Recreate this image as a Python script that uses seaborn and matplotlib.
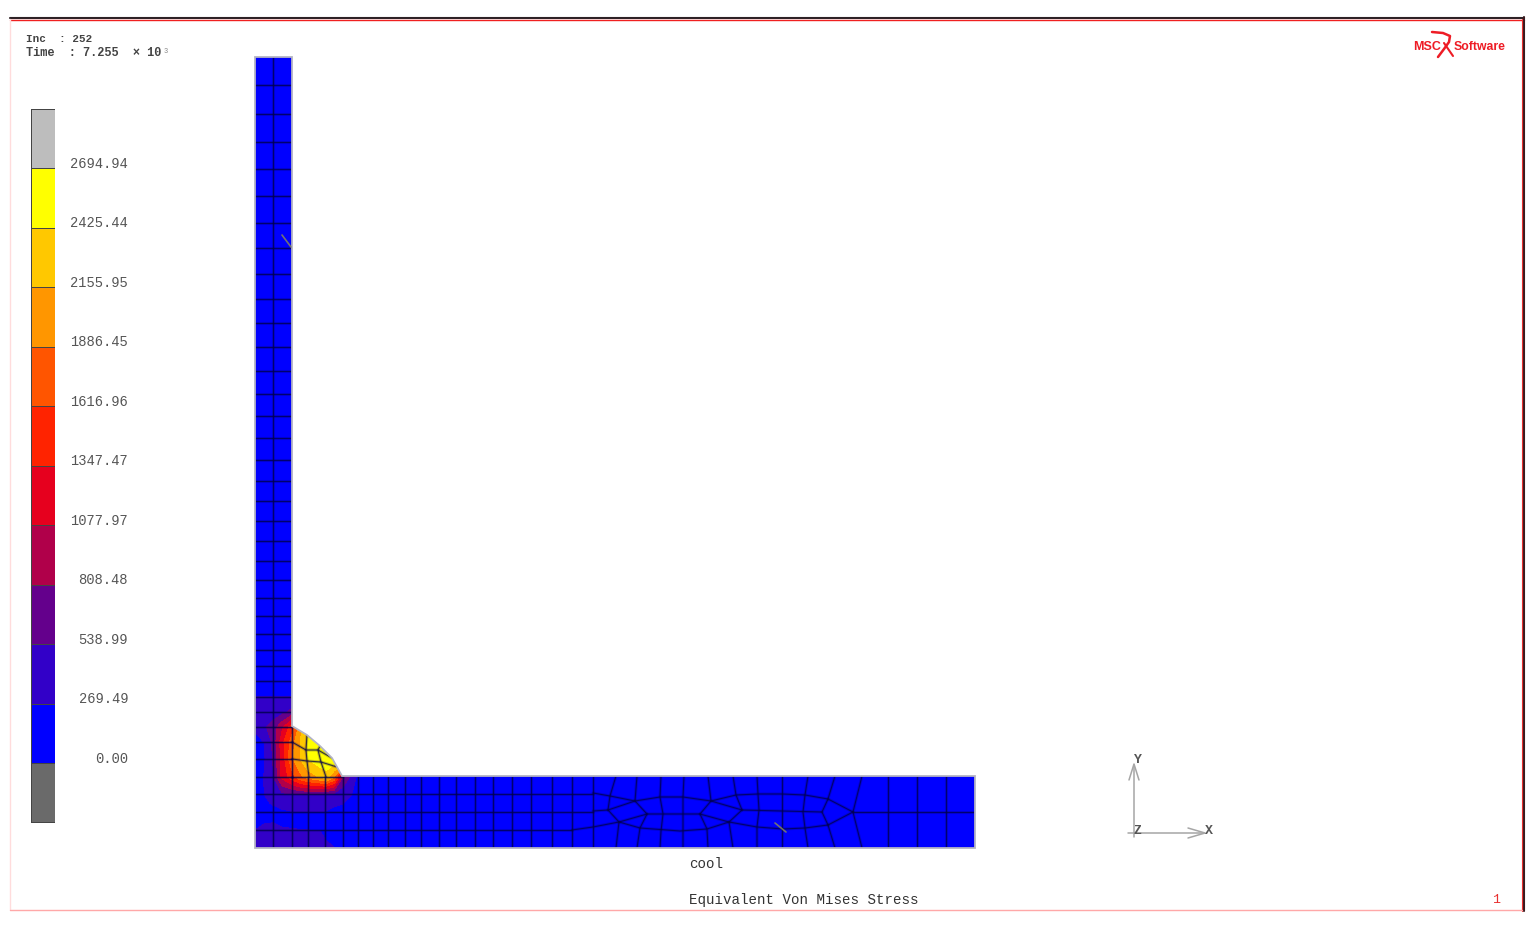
import numpy as np
import pandas as pd
import matplotlib
matplotlib.use("Agg")
import matplotlib.pyplot as plt
from matplotlib.colors import ListedColormap
from matplotlib.patches import Polygon
import seaborn as sns

# Legend
level_colors = ["#bdbdbd", "#ffff00", "#ffc800", "#ff9600", "#ff5500", "#ff2300",
                "#e6001e", "#b0004a", "#64008c", "#3200c8", "#0000ff", "#6a6a6a"]
level_labels = ["2694.94", "2425.44", "2155.95", "1886.45", "1616.96", "1347.47",
                "1077.97", "808.48", "538.99", "269.49", "0.00"]
level_edges = [0.00, 269.49, 538.99, 808.48, 1077.97, 1347.47, 1616.96,
               1886.45, 2155.95, 2425.44, 2694.94]

# Part outline, in picture pixels
outline_x = [255, 292, 292, 307, 320, 332, 337, 342, 975, 975, 255]
outline_y = [58, 58, 727, 736, 747, 759, 768, 777, 777, 849, 849]

# Mesh rows and columns
stem_rows = [86, 115, 143, 170, 197, 224, 249, 275, 300, 324, 348, 372, 395, 417, 439,
             461, 482, 502, 522, 542, 562, 581, 599, 617, 635, 651, 667, 682, 698, 713,
             728, 743, 760, 778]
flange_rows = [795, 813, 831]
flange_cols = [273, 292, 308, 325, 343, 358, 373, 388, 405, 421, 439, 456, 475, 493,
               512, 531, 552, 572, 593]

# Irregular part of the mesh (x, y chains)
mesh_chains = [
    [(593, 794), (610, 797), (635, 802), (660, 798), (683, 798), (711, 802), (736, 796),
     (758, 795), (782, 795), (805, 796), (828, 800), (853, 813)],
    [(593, 812), (608, 811), (635, 802), (647, 815), (700, 815), (711, 802), (742, 811),
     (822, 813), (828, 800)],
    [(608, 811), (619, 823), (647, 815)],
    [(700, 815), (729, 823), (742, 811)],
    [(822, 813), (828, 826)],
    [(853, 813), (975, 813)],
    [(572, 831), (593, 828), (619, 823), (640, 829), (680, 832), (707, 830), (729, 823),
     (757, 828), (783, 830), (805, 829), (828, 826), (853, 813)],
    [(616, 777), (610, 797), (608, 811)],
    [(637, 777), (635, 802)],
    [(661, 777), (660, 798), (663, 815), (661, 832), (660, 849)],
    [(684, 777), (683, 798), (683, 815), (683, 832), (683, 849)],
    [(708, 777), (711, 802)],
    [(733, 777), (736, 796), (742, 811)],
    [(757, 777), (758, 795), (759, 811), (757, 828), (757, 849)],
    [(782, 777), (782, 849)],
    [(808, 777), (805, 796), (803, 813), (805, 829), (808, 849)],
    [(835, 777), (828, 800)],
    [(862, 777), (853, 813), (862, 849)],
    [(888, 777), (888, 849)],
    [(917, 777), (917, 849)],
    [(946, 777), (946, 849)],
    [(619, 823), (616, 849)],
    [(647, 815), (640, 829), (637, 849)],
    [(700, 815), (707, 830), (708, 849)],
    [(729, 823), (733, 849)],
    [(828, 826), (835, 849)],
    # fillet
    [(292, 743), (306, 751), (318, 751), (332, 759)],
    [(292, 760), (307, 762), (321, 763), (337, 768)],
    [(307, 736), (306, 751), (307, 762), (309, 778)],
    [(320, 747), (318, 751), (321, 763), (326, 778)],
    [(292, 727), (292, 778)],
    [(292, 778), (343, 778)],
]

# Stress read at corner points (units of the legend)
field_x = [255, 264, 273, 282, 292, 300, 308, 318, 326, 334, 343, 358]
field_y = [686, 698, 713, 728, 743, 760, 778, 796, 804, 813, 823, 832, 849]
field_values = [
    [150, 150, 150, 150, 150, 150, 150, 150, 150, 150, 150, 150],
    [270, 275, 280, 280, 275, 300, 350, 400, 450, 450, 450, 450],
    [330, 350, 400, 450, 620, 900, 1200, 1500, 1800, 1800, 1800, 1800],
    [300, 500, 650, 1000, 1500, 2000, 2500, 2600, 2650, 2650, 2650, 2650],
    [220, 270, 600, 1250, 1750, 2150, 2450, 2650, 2680, 2680, 2680, 2680],
    [150, 230, 550, 1150, 1850, 2150, 2430, 2600, 2650, 2650, 2650, 2650],
    [180, 280, 520, 1150, 1500, 1800, 2000, 2150, 2300, 1900, 800, 200],
    [210, 260, 400, 450, 480, 500, 490, 470, 440, 400, 320, 230],
    [200, 230, 290, 330, 350, 360, 360, 350, 340, 300, 280, 120],
    [150, 170, 200, 240, 262, 262, 262, 262, 260, 230, 150, 100],
    [240, 265, 268, 250, 240, 235, 230, 225, 210, 180, 120, 100],
    [272, 285, 285, 285, 280, 278, 275, 272, 262, 220, 120, 100],
    [300, 300, 300, 300, 295, 290, 285, 280, 275, 272, 230, 100],
]

# Small olive strokes left on the mesh
stray_marks = [[(282, 236), (291, 248)], [(775, 824), (786, 833)]]

sns.set_theme(style="white")
plt.rcParams["font.family"] = ["Liberation Mono", "DejaVu Sans"]

W, H = 1534, 929
fig = plt.figure(figsize=(W / 100, H / 100), dpi=100, facecolor="white")
ax = fig.add_axes([0, 0, 1, 1])

# Part
part = Polygon(list(zip(outline_x, outline_y)), closed=True, facecolor="#0000ff",
               edgecolor="none", zorder=1)
ax.add_patch(part)

# Stress contours, clipped to the part
contours = ax.contourf(field_x, field_y, np.array(field_values), levels=level_edges,
                       colors=level_colors[::-1][1:11], zorder=2)
contours.set_clip_path(part)

# Mesh edges as one table, one unit per edge
edges = []
def add_edge(points):
    for x, y in points:
        edges.append({"edge": add_edge.n, "x": x, "y": y})
    add_edge.n += 1
add_edge.n = 0

for y in stem_rows:
    add_edge([(255, y), (292, y)])
add_edge([(273, 58), (273, 849)])
for y in flange_rows:
    add_edge([(255, y), (593 if y != 831 else 572, y)])
for x in flange_cols[1:]:
    add_edge([(x, 778), (x, 849)])
for chain in mesh_chains:
    add_edge(chain)
mesh = pd.DataFrame(edges)

# soft halo under a thin core, the reference mesh is a bit blurred
sns.lineplot(data=mesh, x="x", y="y", units="edge", estimator=None, sort=False,
             color="#00004a", linewidth=2.2, alpha=0.22, legend=False, ax=ax, zorder=3)
sns.lineplot(data=mesh, x="x", y="y", units="edge", estimator=None, sort=False,
             color="#00004a", linewidth=0.8, alpha=0.75, legend=False, ax=ax, zorder=3)
for line in ax.lines:
    line.set_clip_path(part)

# grey edge of the part above the mesh
ax.add_patch(Polygon(list(zip(outline_x, outline_y)), closed=True, facecolor="none",
                     edgecolor="#b4b4c4", linewidth=1.3, zorder=4))

for mark in stray_marks:
    ax.plot(*zip(*mark), color="#8f8f50", lw=1.2, alpha=0.8, zorder=4)

# Frame
ax.plot([10, 1524], [18.5, 18.5], color="#2e2226", lw=1.5, zorder=5)
ax.plot([10, 1524], [20.5, 20.5], color="#f02020", lw=1.0, zorder=5)
ax.plot([1524, 1524], [18, 912], color="#3a1a1e", lw=1.5, zorder=5)
ax.plot([1522, 1522], [20, 912], color="#e83030", lw=0.8, zorder=5)
ax.plot([10, 10], [20, 911], color="#ffdcdc", lw=1.0, zorder=5)
ax.plot([10, 1522], [911, 911], color="#ffa8a8", lw=1.0, zorder=5)

# Triad
triad = "#a6a6a6"
ax.plot([1134, 1134], [766, 838], color=triad, lw=1.1)
ax.plot([1128, 1204], [834, 834], color=triad, lw=1.1)
ax.plot([1129, 1134, 1139], [781, 765, 781], color=triad, lw=1.1)
ax.plot([1188, 1205, 1188], [829, 834, 839], color=triad, lw=1.1)
for label, tx, ty in [("Y", 1138, 760), ("Z", 1138, 831), ("X", 1209, 831)]:
    ax.text(tx, ty, label, color="#555555", fontsize=9.5, fontweight="bold", ha="center", va="center")

# Texts
ax.text(26, 38.5, "Inc  : 252", color="#444444", fontsize=7.9, fontweight="bold", va="center")
ax.text(26, 53, "Time  : 7.255  \u00d7 10", color="#444444", fontsize=8.6, fontweight="bold", va="center")
ax.text(164, 51, "3", color="#888888", fontsize=5, va="center")
ax.text(689, 864, "cool", color="#333333", fontsize=10.2, va="center")
ax.text(689, 900, "Equivalent Von Mises Stress", color="#333333", fontsize=10.2, va="center")
ax.text(1496, 900, "1", color="#e83030", fontsize=9.5, ha="center", va="center")

# Logo
logo = "#ee1c25"
ax.text(1413, 46.5, "MSC", color=logo, fontsize=9, fontweight="bold", family="Liberation Sans", va="center")
ax.text(1454, 46.5, "Software", color=logo, fontsize=8.8, fontweight="bold", family="Liberation Sans", va="center")
ax.plot([1432, 1443, 1450, 1449, 1444, 1438], [33, 34, 37, 43, 50, 58], color=logo, lw=1.8)
ax.plot([1444, 1453], [44, 57], color=logo, lw=1.5)

ax.set_xlim(0, W)
ax.set_ylim(H, 0)
ax.axis("off")

# Legend bar
ax_bar = fig.add_axes([31 / W, 1 - 823.5 / H, 24 / W, 714 / H])
sns.heatmap(np.arange(12).reshape(-1, 1), cmap=ListedColormap(level_colors), cbar=False,
            linewidths=0.7, linecolor="#444444", xticklabels=False, ax=ax_bar)
ax_bar.yaxis.tick_right()
ax_bar.set_yticks(np.arange(1, 12) - 0.11)
ax_bar.set_yticklabels(level_labels, rotation=0, ha="right", color="#555555", fontsize=9.9)
ax_bar.tick_params(axis="y", length=0, pad=(128 - 55) * 0.72)
ax_bar.set_xlabel("")
ax_bar.set_ylabel("")

fig.savefig("out.png", dpi=100, facecolor="white")
